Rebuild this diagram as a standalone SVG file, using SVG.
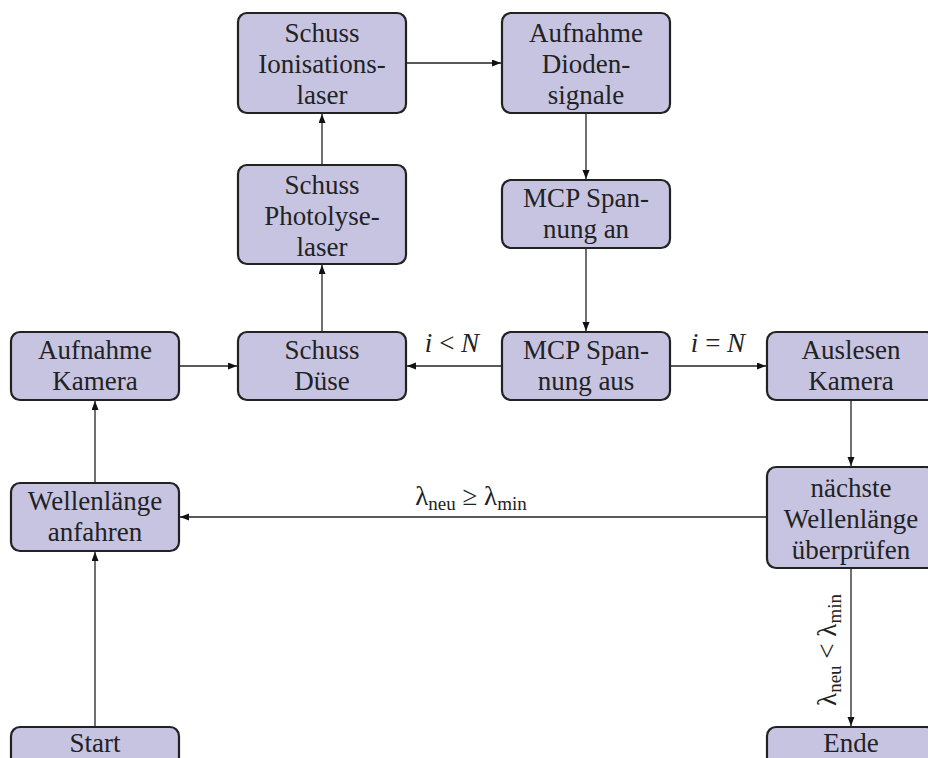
<svg xmlns="http://www.w3.org/2000/svg" width="928" height="758" viewBox="0 0 928 758">
<defs>
<style>
.box{fill:#c7c4e2;stroke:#222;stroke-width:2.2}
text{font-family:'Liberation Serif','DejaVu Serif',serif;font-size:27px;fill:#222;text-anchor:middle}
.sub{font-size:19px}
.c{fill:none;stroke:#222;stroke-width:1.3;marker-end:url(#ah)}
</style>
<marker id="ah" markerUnits="userSpaceOnUse" markerWidth="10" markerHeight="8" refX="9" refY="3.5" orient="auto">
<path d="M0,0 L9,3.5 L0,7 Z" fill="#111"/>
</marker>
</defs>
<rect width="928" height="758" fill="#fff"/>
<g id="connectors">
<line class="c" x1="95" y1="727" x2="95" y2="552"/>
<line class="c" x1="95" y1="483" x2="95" y2="401"/>
<line class="c" x1="179" y1="366" x2="237" y2="366"/>
<line class="c" x1="322" y1="332" x2="322" y2="265"/>
<line class="c" x1="322" y1="166" x2="322" y2="114"/>
<line class="c" x1="406" y1="63" x2="501" y2="63"/>
<line class="c" x1="586" y1="113" x2="586" y2="179"/>
<line class="c" x1="586" y1="248" x2="586" y2="331"/>
<line class="c" x1="502" y1="366" x2="407" y2="366"/>
<line class="c" x1="670" y1="366" x2="766" y2="366"/>
<line class="c" x1="851" y1="400" x2="851" y2="466"/>
<line class="c" x1="767" y1="517" x2="180" y2="517"/>
<line class="c" x1="851" y1="568" x2="851" y2="726"/>
<text x="452" y="352"><tspan font-style="italic">i</tspan> &lt; <tspan font-style="italic">N</tspan></text>
<text x="718" y="352"><tspan font-style="italic">i</tspan> = <tspan font-style="italic">N</tspan></text>
<text x="471" y="505">λ<tspan class="sub" dy="5">neu</tspan><tspan dy="-5"> ≥ λ</tspan><tspan class="sub" dy="5">min</tspan></text>
<text transform="translate(836,650) rotate(-90)" x="0" y="0">λ<tspan class="sub" dy="5">neu</tspan><tspan dy="-5"> &lt; λ</tspan><tspan class="sub" dy="5">min</tspan></text>
</g>
<g id="ionisation">
<rect class="box" x="238" y="13" width="168" height="100" rx="9"/>
<text x="322" y="42">Schuss</text>
<text x="322" y="73">Ionisations-</text>
<text x="322" y="104">laser</text>
</g>
<g id="dioden">
<rect class="box" x="502" y="13" width="168" height="100" rx="9"/>
<text x="586" y="42">Aufnahme</text>
<text x="586" y="73">Dioden-</text>
<text x="586" y="104">signale</text>
</g>
<g id="photolyse">
<rect class="box" x="238" y="165" width="168" height="99" rx="9"/>
<text x="322" y="194">Schuss</text>
<text x="322" y="225">Photolyse-</text>
<text x="322" y="256">laser</text>
</g>
<g id="mcp-an">
<rect class="box" x="502" y="180" width="168" height="68" rx="9"/>
<text x="586" y="207">MCP Span-</text>
<text x="586" y="238">nung an</text>
</g>
<g id="kamera">
<rect class="box" x="11" y="332" width="168" height="68" rx="9"/>
<text x="95" y="359">Aufnahme</text>
<text x="95" y="390">Kamera</text>
</g>
<g id="duese">
<rect class="box" x="238" y="332" width="168" height="68" rx="9"/>
<text x="322" y="359">Schuss</text>
<text x="322" y="390">Düse</text>
</g>
<g id="mcp-aus">
<rect class="box" x="502" y="332" width="168" height="68" rx="9"/>
<text x="586" y="359">MCP Span-</text>
<text x="586" y="390">nung aus</text>
</g>
<g id="auslesen">
<rect class="box" x="767" y="332" width="168" height="68" rx="9"/>
<text x="851" y="359">Auslesen</text>
<text x="851" y="390">Kamera</text>
</g>
<g id="wellenlaenge">
<rect class="box" x="11" y="483" width="168" height="68" rx="9"/>
<text x="95" y="510">Wellenlänge</text>
<text x="95" y="541">anfahren</text>
</g>
<g id="naechste">
<rect class="box" x="767" y="467" width="168" height="101" rx="9"/>
<text x="851" y="497">nächste</text>
<text x="851" y="528">Wellenlänge</text>
<text x="851" y="559">überprüfen</text>
</g>
<g id="start">
<rect class="box" x="11" y="727" width="168" height="40" rx="9"/>
<text x="95" y="752">Start</text>
</g>
<g id="ende">
<rect class="box" x="767" y="727" width="168" height="40" rx="9"/>
<text x="851" y="752">Ende</text>
</g>
</svg>
